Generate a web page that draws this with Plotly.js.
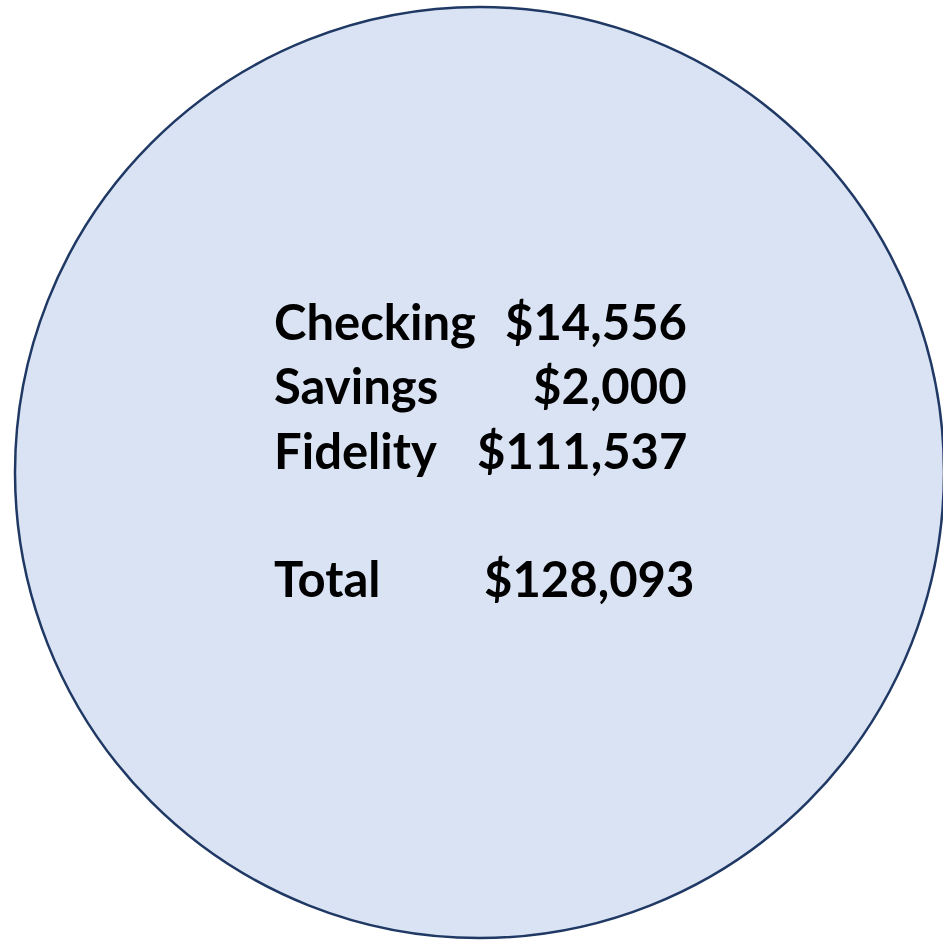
<!DOCTYPE html>
<html>
<head>
<meta charset="utf-8">
<script src="https://cdn.plot.ly/plotly-3.0.1.min.js"></script>
<style>html,body{margin:0;padding:0;background:#fff;}#chart{width:943px;height:940px;}</style>
</head>
<body>
<div id="chart"></div>
<script>
// Data
const accounts = ["Checking", "Savings", "Fidelity"];
const balances = [14556, 2000, 111537];
const totalLabel = "Total";

const fmt = v => "$" + v.toLocaleString("en-US");
const total = balances.reduce((a, b) => a + b, 0);

// Layout constants (positions)
const labelX = 272;
const valueX = 689;
const totalValueX = 696;
const rowY = [321, 385, 450];
const totalY = 578;
const fontSpec = {family: "Lato, 'Open Sans', sans-serif", size: 49, color: "#000000", weight: "bold"};

const annotations = [];
accounts.forEach((a, i) => {
  annotations.push({x: labelX, y: rowY[i], xref: "x", yref: "y", text: "<b>" + a + "</b>", showarrow: false, xanchor: "left", yanchor: "middle", font: fontSpec});
  annotations.push({x: valueX, y: rowY[i], xref: "x", yref: "y", text: "<b>" + fmt(balances[i]) + "</b>", showarrow: false, xanchor: "right", yanchor: "middle", font: fontSpec});
});
annotations.push({x: labelX, y: totalY, xref: "x", yref: "y", text: "<b>" + totalLabel + "</b>", showarrow: false, xanchor: "left", yanchor: "middle", font: fontSpec});
annotations.push({x: totalValueX, y: totalY, xref: "x", yref: "y", text: "<b>" + fmt(total) + "</b>", showarrow: false, xanchor: "right", yanchor: "middle", font: fontSpec});

const layout = {
  width: 943, height: 940,
  margin: {l: 0, r: 0, t: 0, b: 0, pad: 0},
  paper_bgcolor: "#ffffff", plot_bgcolor: "#ffffff",
  xaxis: {range: [0, 943], visible: false, fixedrange: true},
  yaxis: {range: [940, 0], visible: false, fixedrange: true},
  showlegend: false,
  shapes: [{
    type: "circle", xref: "x", yref: "y",
    x0: 15, x1: 944, y0: 7, y1: 938,
    line: {color: "#1f3864", width: 2.5},
    fillcolor: "#dae3f3", layer: "below"
  }],
  annotations: annotations
};

Plotly.newPlot("chart", [{x: [], y: [], type: "scatter", hoverinfo: "skip"}], layout, {staticPlot: true, displayModeBar: false});
</script>
</body>
</html>
